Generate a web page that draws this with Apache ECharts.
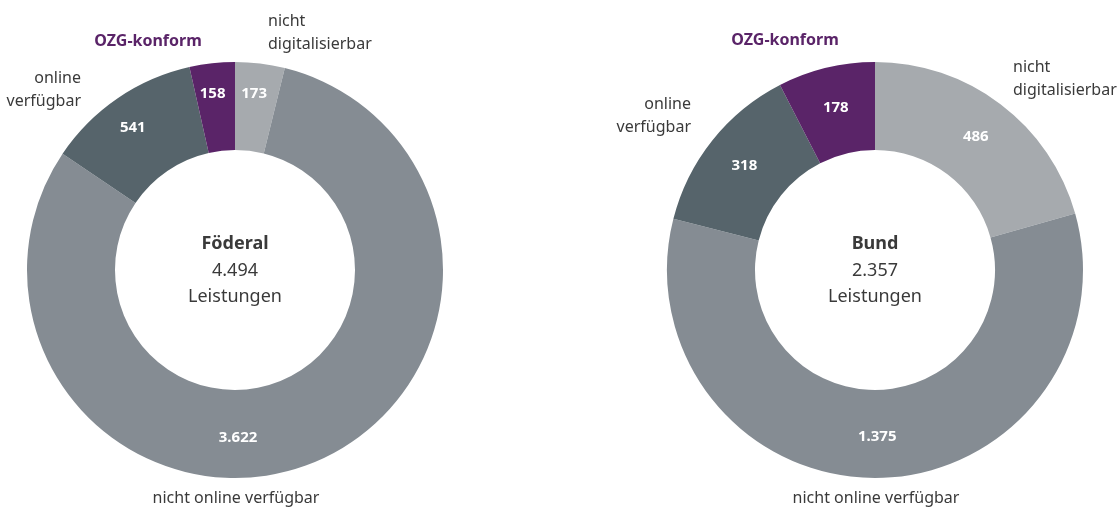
<!DOCTYPE html>
<html lang="de">
<head>
<meta charset="utf-8" />
<title>OZG-Leistungen</title>
<style>
  html, body { margin: 0; padding: 0; background: #fff; }
  #chart { width: 1119px; height: 508px; }
</style>
</head>
<body>
<div id="chart"></div>
<script src="https://cdn.jsdelivr.net/npm/echarts@6/dist/echarts.min.js"></script>
<script>
// Daten
const categories = ['nicht digitalisierbar', 'nicht online verfügbar', 'online verfügbar', 'OZG-konform'];
const foederalValues = [173, 3622, 541, 158];
const bundValues = [486, 1375, 318, 178];
const centerTitles = ['Föderal', 'Bund'];
const centerUnit = 'Leistungen';

const colors = ['#a6aaae', '#858c93', '#56646b', '#5a2468'];
const textColor = '#3a3a3a';
const font = '"Noto Sans", "Open Sans", sans-serif';

function fmt(n) {
  return String(n).replace(/\B(?=(\d{3})+(?!\d))/g, '.');
}
function sum(arr) {
  return arr.reduce(function (a, b) { return a + b; }, 0);
}

const chart = echarts.init(document.getElementById('chart'));

// label nudges (left chart only, labels were hand placed there)
const leftNudge = { 0: [-1, -10], 1: [-57, 12], 2: [-8, -4], 3: [-4, -10] };

function donut(values, cx, nudge) {
  return {
    type: 'pie',
    center: [cx, 270],
    radius: [120, 208],
    startAngle: 90,
    clockwise: true,
    silent: true,
    label: {
      show: true,
      position: 'inside',
      color: '#fff',
      fontFamily: font,
      fontWeight: 'bold',
      fontSize: 15,
      formatter: function (p) { return fmt(p.value); }
    },
    labelLine: { show: false },
    data: values.map(function (v, i) {
      const item = { name: categories[i], value: v, itemStyle: { color: colors[i] } };
      if (nudge && nudge[i]) item.label = { offset: nudge[i] };
      return item;
    })
  };
}

function txt(x, y, text, align, opts) {
  opts = opts || {};
  return {
    type: 'text',
    x: x,
    y: y,
    style: {
      text: text,
      fill: opts.fill || textColor,
      font: (opts.weight || 'normal') + ' ' + (opts.size || 16) + 'px ' + font,
      textAlign: align,
      textVerticalAlign: 'middle',
      lineHeight: opts.lineHeight || 23
    }
  };
}

function centerText(cx, title, total) {
  return [
    txt(cx, 244, title, 'center', { weight: 'bold', size: 18 }),
    txt(cx, 271, fmt(total), 'center', { size: 18 }),
    txt(cx, 297, centerUnit, 'center', { size: 18 })
  ];
}

const graphics = [].concat(
  centerText(235, centerTitles[0], sum(foederalValues)),
  centerText(875, centerTitles[1], sum(bundValues)),
  [
    // Föderal
    txt(148, 41, categories[3], 'center', { weight: 'bold', fill: colors[3] }),
    txt(268, 33, 'nicht\ndigitalisierbar', 'left'),
    txt(81, 90, 'online\nverfügbar', 'right'),
    txt(236, 498, categories[1], 'center'),
    // Bund
    txt(785, 40, categories[3], 'center', { weight: 'bold', fill: colors[3] }),
    txt(1013, 79, 'nicht\ndigitalisierbar', 'left'),
    txt(691, 116, 'online\nverfügbar', 'right'),
    txt(876, 498, categories[1], 'center')
  ]
);

chart.setOption({
  animation: false,
  series: [
    donut(foederalValues, 235, leftNudge),
    donut(bundValues, 875, null)
  ],
  graphic: graphics
});

window.onresize = function () {
  chart.resize();
};
</script>
</body>
</html>
